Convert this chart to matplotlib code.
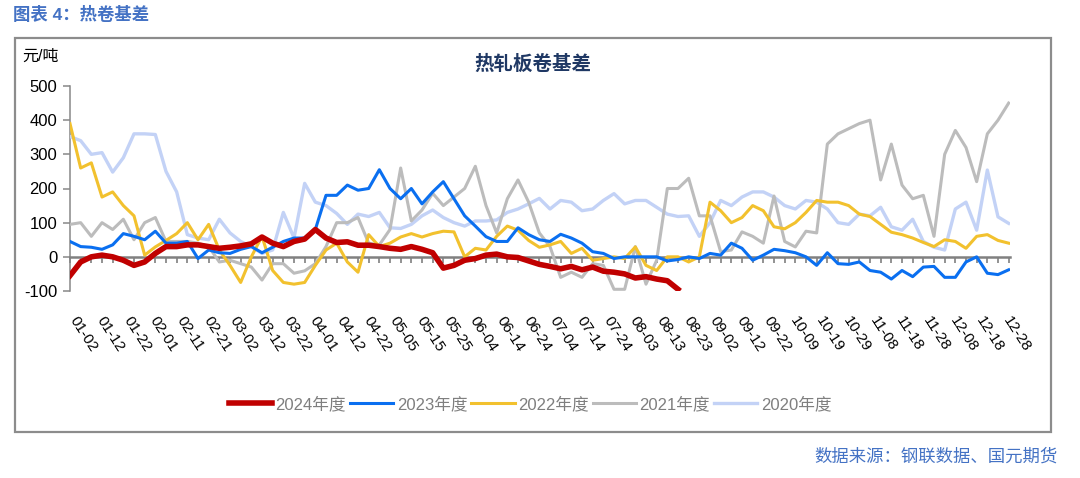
import matplotlib
matplotlib.use("Agg")
import matplotlib.pyplot as plt
import numpy as np
from matplotlib.patches import Rectangle

plt.rcParams['font.family'] = ['Liberation Sans', 'Noto Sans CJK SC']
plt.rcParams['axes.unicode_minus'] = False

# category axis: one label every 10 categories, samples every 4 categories
date_labels = ['01-02', '01-12', '01-22', '02-01', '02-11', '02-21', '03-02', '03-12',
               '03-22', '04-01', '04-12', '04-22', '05-05', '05-15', '05-25', '06-04',
               '06-14', '06-24', '07-04', '07-14', '07-24', '08-03', '08-13', '08-23',
               '09-02', '09-12', '09-22', '10-09', '10-19', '10-29', '11-08', '11-18',
               '11-28', '12-08', '12-18', '12-28']

y2024 = [-55, -15, 0, 5, 0, -10, -25, -15, 10, 30, 30, 35, 35, 30, 25, 28, 32, 38, 58, 40, 30, 45, 52,
         80, 55, 42, 44, 34, 34, 30, 25, 22, 30, 22, 12, -33, -25, -10, -5, 5, 8, 0, -2, -12,
         -22, -28, -35, -28, -38, -30, -42, -45, -50, -62, -58, -65, -70, -95]

y2023 = [45, 30, 28, 22, 35, 68, 60, 50, 75, 40, 40, 45, -5, 20, 12, 10, 22, 30, 12, 28, 45, 55, 55,
         80, 180, 180, 210, 195, 200, 255, 200, 170, 200, 155, 190, 220, 170, 120, 90, 59, 45, 45, 85, 65,
         50, 45, 66, 55, 40, 15, 10, -5, 0, 0, 0, 0, -12, -8, 0, -5, 10, 5, 40, 25, -10, 5, 22,
         18, 12, 0, -25, 12, -20, -22, -15, -40, -45, -65, -40, -58, -30, -28, -60, -60, -15, 0, -48, -52, -38]

y2022 = [390, 260, 275, 175, 190, 150, 120, 5, 29, 48, 68, 100, 50, 95, 20, -25, -75, 0, 60, -40, -75, -80, -75,
         -25, 20, 40, -15, -45, 65, 30, 40, 58, 68, 58, 68, 75, 73, 0, 25, 20, 60, 90, 78, 48,
         28, 35, 45, 10, 25, -10, -5, 0, -5, 29, -25, -40, 0, 0, -15, 0, 160, 135, 100, 115, 150, 135, 88,
         82, 100, 130, 165, 160, 160, 150, 125, 118, 95, 72, 65, 55, 42, 30, 50, 45, 25, 60, 65, 48, 40]

y2021 = [95, 100, 60, 100, 80, 110, 50, 100, 115, 45, 45, 45, 40, 30, -15, -10, -20, -30, -68, -20, -20, -48, -41,
         -20, 30, 100, 100, 115, 40, 35, 80, 260, 105, 137, 186, 150, 175, 200, 265, 150, 70, 170, 225, 160,
         70, 30, -60, -45, -60, -20, -25, -95, -95, 30, -80, -10, 200, 200, 230, 120, 120, 15, 20, 73, 60, 40, 178,
         45, 29, 75, 70, 330, 360, 375, 390, 400, 225, 330, 210, 170, 180, 60, 300, 370, 320, 220, 360, 400, 450]

y2020 = [352, 340, 300, 305, 248, 290, 360, 360, 358, 250, 190, 65, 55, 50, 110, 70, 45, 30, 10, 20, 130, 55, 215,
         160, 150, 127, 95, 125, 118, 130, 85, 83, 95, 120, 137, 115, 100, 90, 105, 105, 108, 130, 140, 155,
         171, 140, 165, 160, 135, 140, 165, 185, 155, 165, 165, 145, 125, 118, 120, 60, 100, 165, 150, 175, 190, 190, 175,
         150, 140, 165, 160, 140, 100, 95, 125, 120, 145, 88, 78, 110, 45, 28, 20, 140, 160, 78, 254, 117, 98]

series = [
    ('2024年度', y2024, '#c00000', 4.0, 7),
    ('2023年度', y2023, '#0a6ff0', 2.2, 6),
    ('2022年度', y2022, '#f2c12e', 2.2, 5),
    ('2021年度', y2021, '#bcbcbc', 2.2, 4),
    ('2020年度', y2020, '#c3d2f6', 2.4, 3),
]

fig = plt.figure(figsize=(10.8, 4.78), dpi=100)
ax = fig.add_axes([70 / 1080, 1 - 291 / 478, 940 / 1080, 205 / 478])

for name, vals, col, lw, z in series:
    xs = np.arange(len(vals)) * 4
    ax.plot(xs, vals, color=col, lw=lw, label=name, zorder=z, solid_joinstyle='round')

ax.set_xlim(0, 352.5)
ax.set_ylim(-100, 500)
ax.set_yticks(np.arange(-100, 501, 100))
ax.tick_params(axis='y', direction='out', length=5, width=1.1, color='#888888',
               labelsize=12, pad=4)

ax.spines['top'].set_visible(False)
ax.spines['right'].set_visible(False)
ax.spines['left'].set_color('#888888')
ax.spines['left'].set_linewidth(1.1)
ax.spines['bottom'].set_position(('data', 0))
ax.spines['bottom'].set_color('#808080')
ax.spines['bottom'].set_linewidth(1.8)
ax.spines['bottom'].set_zorder(2.5)

ax.set_xticks(np.arange(0, 353, 4))
ax.tick_params(axis='x', direction='out', length=4, width=1.2, color='#808080',
               labelbottom=False)

for i, lab in enumerate(date_labels):
    ax.text(i * 10 + 1.1, -0.13, lab, transform=ax.get_xaxis_transform(),
            rotation=-57, ha='left', va='center', rotation_mode='anchor', fontsize=11)

leg = fig.legend(loc='center', bbox_to_anchor=(530 / 1080, 1 - 404 / 478), ncol=5,
                 frameon=False, fontsize=12, handlelength=2.6, handletextpad=0.2,
                 columnspacing=0.25)
for t in leg.get_texts():
    t.set_color('#7f7f7f')

fig.patches.append(Rectangle((15 / 1080, 1 - 432 / 478), 1036 / 1080, 394 / 478,
                             transform=fig.transFigure, fill=False,
                             edgecolor='#8c8c8c', lw=1.6))

fig.text(13 / 1080, 1 - 14 / 478, '图表 4：热卷基差', ha='left', va='center',
         fontsize=12.5, fontweight='bold', color='#4472c4')
fig.text(533 / 1080, 1 - 64 / 478, '热轧板卷基差', ha='center', va='center',
         fontsize=14, fontweight='bold', color='#1f3864')
fig.text(22 / 1080, 1 - 56 / 478, '元/吨', ha='left', va='center', fontsize=11.5)
fig.text(1058 / 1080, 1 - 456 / 478, '数据来源：钢联数据、国元期货', ha='right', va='center',
         fontsize=12.5, color='#4472c4')

fig.savefig('out.png', dpi=100)
